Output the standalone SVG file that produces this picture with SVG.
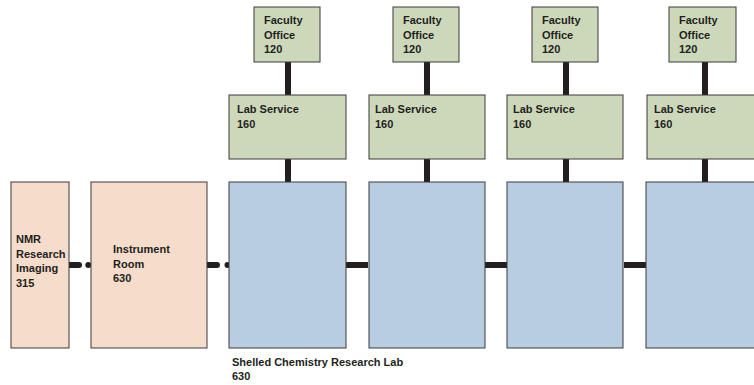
<svg xmlns="http://www.w3.org/2000/svg" width="754" height="385" viewBox="0 0 754 385">
  <style>
    .box { stroke: #3a3a3a; stroke-width: 1; }
    .office, .service { fill: #cdd8bb; }
    .support { fill: #f6dccb; }
    .lab { fill: #b8cce2; }
    .link { stroke: #231f20; stroke-width: 6; fill: none; }
    .dashed { stroke-linecap: round; }
    text { font-family: "Liberation Sans", Arial, sans-serif; font-size: 11px; font-weight: bold; fill: #231f20; }
  </style>

  <!-- connectors, drawn under the rooms -->
  <g id="connectors">
    <!-- vertical links: office to service to lab -->
    <path class="link" d="M288 62 V95 M288 159 V182"/>
    <path class="link" d="M427 62 V95 M427 159 V182"/>
    <path class="link" d="M566 62 V95 M566 159 V182"/>
    <path class="link" d="M705 62 V95 M705 159 V182"/>
    <!-- horizontal links between labs -->
    <path class="link" d="M346 265 H368 M485 265 H507 M624 265 H646"/>
    <!-- dashed links on the support side -->
    <path class="link dashed" d="M66 265 H79 M88.3 265 h0"/>
    <path class="link dashed" d="M204 265 H217 M227.5 265 h0"/>
  </g>

  <g id="nmr-imaging">
    <rect class="box support" x="11" y="182" width="58" height="166"/>
    <text x="16" y="243">NMR</text>
    <text x="16" y="257.5">Research</text>
    <text x="16" y="272">Imaging</text>
    <text x="16" y="286.5">315</text>
  </g>

  <g id="instrument-room">
    <rect class="box support" x="91" y="182" width="116" height="166"/>
    <text x="113" y="253">Instrument</text>
    <text x="113" y="267.5">Room</text>
    <text x="113" y="282">630</text>
  </g>

  <!-- column 1 -->
  <g id="office-1">
    <rect class="box office" x="254" y="7" width="66" height="55"/>
    <text x="264" y="24">Faculty</text>
    <text x="264" y="38.5">Office</text>
    <text x="264" y="53">120</text>
  </g>
  <g id="service-1">
    <rect class="box service" x="229" y="95" width="117" height="64"/>
    <text x="237" y="113">Lab Service</text>
    <text x="237" y="128">160</text>
  </g>
  <g id="lab-1">
    <rect class="box lab" x="229" y="182" width="117" height="166"/>
    <text x="232" y="366">Shelled Chemistry Research Lab</text>
    <text x="232" y="380">630</text>
  </g>

  <!-- column 2 -->
  <g id="office-2">
    <rect class="box office" x="393" y="7" width="66" height="55"/>
    <text x="403" y="24">Faculty</text>
    <text x="403" y="38.5">Office</text>
    <text x="403" y="53">120</text>
  </g>
  <g id="service-2">
    <rect class="box service" x="369" y="95" width="116" height="64"/>
    <text x="375" y="113">Lab Service</text>
    <text x="375" y="128">160</text>
  </g>
  <g id="lab-2">
    <rect class="box lab" x="369" y="182" width="116" height="166"/>
  </g>

  <!-- column 3 -->
  <g id="office-3">
    <rect class="box office" x="532" y="7" width="66" height="55"/>
    <text x="542" y="24">Faculty</text>
    <text x="542" y="38.5">Office</text>
    <text x="542" y="53">120</text>
  </g>
  <g id="service-3">
    <rect class="box service" x="507" y="95" width="116" height="64"/>
    <text x="513" y="113">Lab Service</text>
    <text x="513" y="128">160</text>
  </g>
  <g id="lab-3">
    <rect class="box lab" x="507" y="182" width="116" height="166"/>
  </g>

  <!-- column 4 -->
  <g id="office-4">
    <rect class="box office" x="669" y="7" width="67" height="55"/>
    <text x="679" y="24">Faculty</text>
    <text x="679" y="38.5">Office</text>
    <text x="679" y="53">120</text>
  </g>
  <g id="service-4">
    <rect class="box service" x="647" y="95" width="117" height="64"/>
    <text x="654" y="113">Lab Service</text>
    <text x="654" y="128">160</text>
  </g>
  <g id="lab-4">
    <rect class="box lab" x="646" y="182" width="118" height="166"/>
  </g>
</svg>
